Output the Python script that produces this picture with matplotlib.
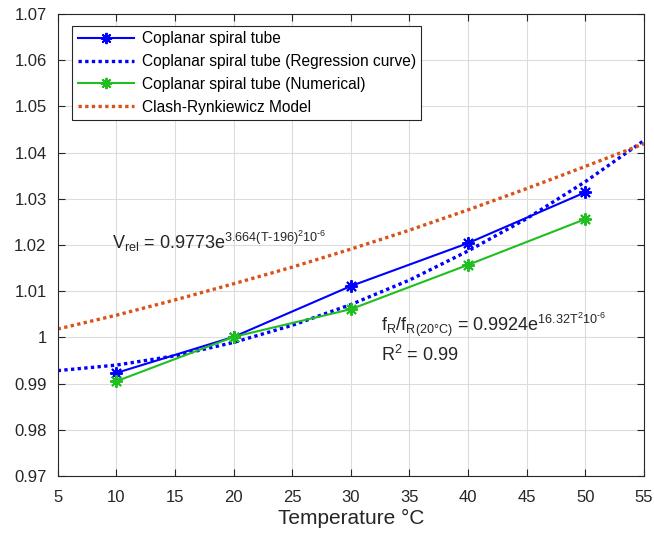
import matplotlib
matplotlib.use("Agg")
import matplotlib.pyplot as plt

plt.rcParams["font.family"] = ["Liberation Sans", "DejaVu Sans"]
plt.rcParams["mathtext.fontset"] = "custom"
plt.rcParams["mathtext.rm"] = "Liberation Sans"
plt.rcParams["mathtext.it"] = "Liberation Sans"

# measured points
temp = [10, 20, 30, 40, 50]
coplanar = [0.9923, 1.0001, 1.0111, 1.0204, 1.0314]
numerical = [0.9905, 1.0001, 1.0061, 1.0157, 1.0256]

# regression / model curves, read at 5 degC steps
curve_t = [5, 10, 15, 20, 25, 30, 35, 40, 45, 50, 55]
regression = [0.9928, 0.9940, 0.9960, 0.9989, 1.0026, 1.0071, 1.0124, 1.0187, 1.0257, 1.0337, 1.0426]
clash_model = [1.0018, 1.0048, 1.0081, 1.0116, 1.0152, 1.0191, 1.0232, 1.0276, 1.0322, 1.0370, 1.0419]

xticks = [5, 10, 15, 20, 25, 30, 35, 40, 45, 50, 55]
yticks = [0.97, 0.98, 0.99, 1.00, 1.01, 1.02, 1.03, 1.04, 1.05, 1.06, 1.07]
ytick_labels = ["0.97", "0.98", "0.99", "1", "1.01", "1.02", "1.03", "1.04", "1.05", "1.06", "1.07"]

BLUE = "#0000FF"
GREEN = "#1FBF1F"
ORANGE = "#D95319"
TXT = "#262626"
ASTERISK = (8, 2, 0)

fig = plt.figure(figsize=(6.54, 5.35), dpi=100)
ax = fig.add_axes([0.0882, 0.1103, 0.8965, 0.8637])

ax.plot(temp, coplanar, color=BLUE, lw=1.5, marker=ASTERISK, ms=9, mew=1.4,
        label="Coplanar spiral tube")
ax.plot(curve_t, regression, color=BLUE, lw=2.4, ls=(0, (1, 1)),
        label="Coplanar spiral tube (Regression curve)")
ax.plot(temp, numerical, color=GREEN, lw=1.5, marker=ASTERISK, ms=9, mew=1.4,
        label="Coplanar spiral tube (Numerical)")
ax.plot(curve_t, clash_model, color=ORANGE, lw=2.4, ls=(0, (1, 1)),
        label="Clash-Rynkiewicz Model")

ax.set_xlim(5, 55)
ax.set_ylim(0.97, 1.07)
ax.set_xticks(xticks)
ax.set_yticks(yticks)
ax.set_yticklabels(ytick_labels)
ax.tick_params(direction="in", top=True, right=True, length=5, width=0.8,
               labelsize=12, colors=TXT)
ax.tick_params(axis="x", pad=10)
ax.tick_params(axis="y", pad=8)
ax.grid(True, color="#DCDCDC", lw=0.8)
ax.set_axisbelow(True)
for s in ax.spines.values():
    s.set_color(TXT)
    s.set_linewidth(0.8)

ax.set_xlabel("Temperature °C", fontsize=15, color=TXT, labelpad=3)

ax.text(9.6, 1.0207,
        r"V$_{\mathregular{rel}}$ = 0.9773e$^{\mathregular{3.664(T‐196)^{2}10^{‐6}}}$",
        fontsize=13, va="center", ha="left", color=TXT)
ax.text(32.6, 1.0027,
        r"f$_{\mathregular{R}}$/f$_{\mathregular{R(20°C)}}$ = 0.9924e$^{\mathregular{16.32T^{2}10^{‐6}}}$",
        fontsize=13, va="center", ha="left", color=TXT)
ax.text(32.6, 0.9962, r"R$^{\mathregular{2}}$ = 0.99",
        fontsize=13, va="center", ha="left", color=TXT)

leg = ax.legend(loc="upper left", bbox_to_anchor=(0.025, 0.974), borderaxespad=0,
                fontsize=11.2, handlelength=3.6, handletextpad=0.5, borderpad=0.35,
                labelspacing=0.5, fancybox=False, framealpha=1,
                edgecolor=TXT, markerscale=0.9)
leg.get_frame().set_linewidth(0.8)

fig.savefig("out.png", dpi=100)
